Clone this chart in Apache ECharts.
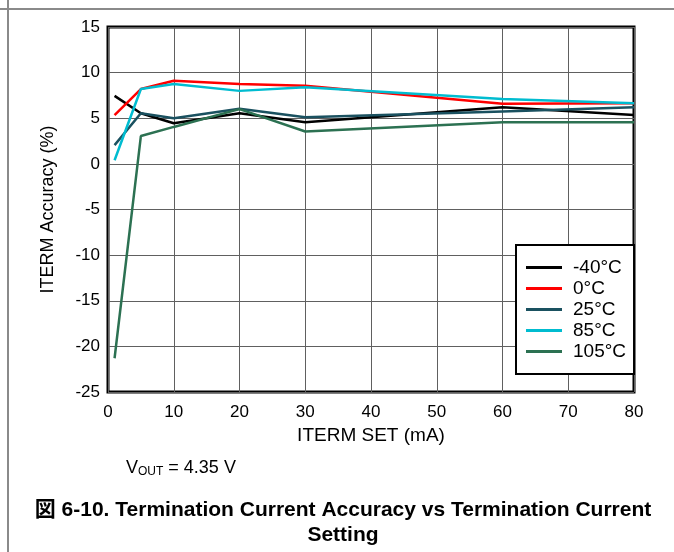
<!DOCTYPE html>
<html>
<head>
<meta charset="utf-8">
<script src="https://cdn.jsdelivr.net/npm/echarts@6/dist/echarts.min.js"></script>
<style>
  html, body { margin: 0; padding: 0; background: #fff; }
  #chart { width: 674px; height: 552px; }
</style>
</head>
<body>
<div id="chart"></div>
<script>
  // ITERM SET points (mA) where the curves change slope
  const itermSet = [1, 5, 10, 20, 30, 60, 80];
  const accM40 = [7.45, 5.55, 4.45, 5.55, 4.55, 6.2, 5.35];
  const acc0 = [5.35, 8.2, 9.1, 8.75, 8.55, 6.6, 6.65];
  const acc25 = [2.05, 5.55, 5.0, 6.05, 5.1, 5.75, 6.2];
  const acc85 = [0.4, 8.2, 8.75, 8.0, 8.4, 7.1, 6.65];
  const acc105 = [-21.3, 3.05, 4.05, 6.0, 3.55, 4.55, 4.55];

  const seriesNames = ["-40°C", "0°C", "25°C", "85°C", "105°C"];
  const seriesColors = ["#000000", "#ff0000", "#1a5160", "#00bcd0", "#2c7152"];
  const seriesValues = [accM40, acc0, acc25, acc85, acc105];

  const font = "'Liberation Sans', Arial, sans-serif";

  const chart = echarts.init(document.getElementById("chart"));
  chart.setOption({
    animation: false,
    backgroundColor: "#fff",
    grid: {
      left: 108,
      right: 40,
      top: 27,
      bottom: 160,
      show: true,
      borderColor: "#000",
      borderWidth: 3,
    },
    legend: {
      orient: "vertical",
      left: 516,
      top: 245,
      padding: [13, 8, 13, 10],
      itemGap: 2,
      itemWidth: 36,
      itemHeight: 3,
      icon: "rect",
      backgroundColor: "#fff",
      borderColor: "#000",
      borderWidth: 2,
      textStyle: { fontSize: 19, color: "#000", fontFamily: font, padding: [0, 0, 0, 6] },
      data: seriesNames,
    },
    xAxis: {
      type: "value",
      min: 0,
      max: 80,
      interval: 10,
      name: "ITERM SET (mA)",
      nameLocation: "middle",
      nameGap: 32,
      nameTextStyle: { fontSize: 19, color: "#000", fontFamily: font },
      axisLine: { show: false },
      axisTick: { show: false },
      axisLabel: { fontSize: 17, color: "#000", fontFamily: font, margin: 12 },
      splitLine: { show: true, lineStyle: { color: "#606060", width: 1 } },
    },
    yAxis: {
      type: "value",
      min: -25,
      max: 15,
      interval: 5,
      name: "ITERM Accuracy (%)",
      nameLocation: "middle",
      nameGap: 51,
      nameTextStyle: { fontSize: 18, color: "#000", fontFamily: font },
      axisLine: { show: false },
      axisTick: { show: false },
      axisLabel: { fontSize: 17, color: "#000", fontFamily: font, margin: 8 },
      splitLine: { show: true, lineStyle: { color: "#606060", width: 1 } },
    },
    series: seriesNames.map((name, i) => ({
      name: name,
      type: "line",
      symbol: "none",
      color: seriesColors[i],
      lineStyle: { width: 2.5 },
      data: itermSet.map((x, j) => [x, seriesValues[i][j]]),
    })),
    graphic: [
      {
        type: "line",
        shape: { x1: 0, y1: 9, x2: 674, y2: 9 },
        style: { stroke: "#8a8a8a", lineWidth: 2 },
      },
      {
        type: "line",
        shape: { x1: 8, y1: 0, x2: 8, y2: 552 },
        style: { stroke: "#8a8a8a", lineWidth: 2 },
      },
      {
        type: "text",
        left: 126,
        top: 459,
        style: {
          text: "{v|V}{sub|OUT}{v| = 4.35 V}",
          fill: "#000",
          rich: {
            v: { fontSize: 18, fontFamily: font, fill: "#000" },
            sub: { fontSize: 12, fontFamily: font, fill: "#000", padding: [8, 0, 0, 0] },
          },
        },
      },
      {
        type: "text",
        x: 343,
        y: 498,
        style: {
          text: "図 6-10. Termination Current Accuracy vs Termination Current\nSetting",
          align: "center",
          verticalAlign: "top",
          fill: "#000",
          font: "bold 21px 'Liberation Sans', 'Noto Sans CJK JP', sans-serif",
          lineHeight: 25,
        },
      },
    ],
  });
</script>
</body>
</html>
